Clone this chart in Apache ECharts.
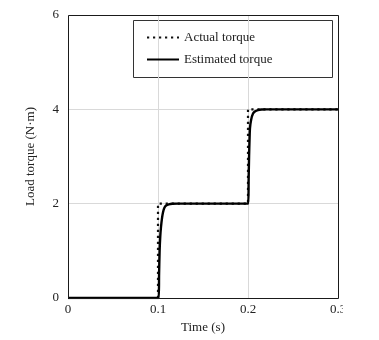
<!DOCTYPE html>
<html>
<head>
<meta charset="utf-8">
<script src="https://cdn.jsdelivr.net/npm/echarts@6/dist/echarts.min.js"></script>
<style>
  html, body { margin: 0; padding: 0; background: #fff; }
  #wrap { width: 379px; height: 340px; background: #fff; }
  #chart { width: 343px; height: 340px; }
</style>
</head>
<body>
<div id="wrap"><div id="chart"></div></div>
<script>
// Load torque step test: reference step vs. observer estimate
const seriesNames = ['Actual torque', 'Estimated torque'];
const xTicks = [0, 0.1, 0.2, 0.3];
const yTicks = [0, 2, 4, 6];

// Reference load torque (s, N·m)
const actualTime   = [0, 0.1, 0.1, 0.2, 0.2, 0.3];
const actualTorque = [0, 0,   2,   2,   4,   4];

// Estimated load torque (s, N·m)
const estTime = [
  0, 0.1008, 0.1012, 0.1018, 0.1025, 0.1033, 0.1045, 0.1056, 0.107, 0.109, 0.112, 0.116, 0.122,
  0.2003, 0.2007, 0.2012, 0.2017, 0.2022, 0.2035, 0.2056, 0.208, 0.2111, 0.215, 0.22, 0.3
];
const estTorque = [
  0, 0, 0.5, 1.0, 1.3, 1.5, 1.7, 1.82, 1.91, 1.96, 1.985, 1.997, 2.0,
  2.0, 2.5, 3.0, 3.35, 3.6, 3.78, 3.91, 3.96, 3.985, 3.997, 4.0, 4.0
];

const pair = (xs, ys) => xs.map((x, i) => [x, ys[i]]);
const font = 'Liberation Serif';
const txt = '#222';

const chart = echarts.init(document.getElementById('chart'), null, { renderer: 'canvas' });
chart.setOption({
  animation: false,
  backgroundColor: '#fff',
  textStyle: { fontFamily: font, color: txt },
  grid: { left: 68, right: 5, top: 15, bottom: 42, containLabel: false, outerBoundsMode: 'none' },
  xAxis: {
    type: 'value', min: 0, max: 0.3, interval: 0.1,
    name: 'Time (s)', nameLocation: 'middle', nameGap: 20,
    nameTextStyle: { fontFamily: font, fontSize: 13, color: txt },
    axisLine: { show: false },
    axisTick: { show: false },
    axisLabel: {
      margin: 5, fontFamily: font, fontSize: 13, color: txt,
      formatter: v => (xTicks.includes(Math.round(v * 10) / 10) ? (v === 0 ? '0' : v.toFixed(1)) : '')
    },
    splitLine: { show: true, lineStyle: { color: '#d9d9d9', width: 1 } }
  },
  yAxis: {
    type: 'value', min: 0, max: 6, interval: 2,
    name: 'Load torque (N·m)', nameLocation: 'middle', nameGap: 31,
    nameTextStyle: { fontFamily: font, fontSize: 13, color: txt },
    axisLine: { show: false },
    axisTick: { show: false },
    axisLabel: {
      margin: 9, fontFamily: font, fontSize: 13, color: txt,
      formatter: v => (yTicks.includes(v) ? String(v) : '')
    },
    splitLine: { show: true, lineStyle: { color: '#d9d9d9', width: 1 } }
  },
  legend: {
    orient: 'vertical', left: 141, top: 26,
    itemWidth: 32, itemHeight: 12, itemGap: 9,
    itemStyle: { opacity: 0 },
    textStyle: { fontFamily: font, fontSize: 13, color: txt },
    data: seriesNames
  },
  graphic: [
    // plot frame
    { type: 'rect', shape: { x: 68.5, y: 15.5, width: 270, height: 283 }, style: { fill: 'none', stroke: '#1a1a1a', lineWidth: 1 }, z: 10, silent: true },
    // legend frame
    { type: 'rect', shape: { x: 133.5, y: 20.5, width: 199, height: 57 }, style: { fill: '#fff', stroke: '#333', lineWidth: 1 }, z: 0, silent: true }
  ],
  series: [
    {
      name: seriesNames[0], type: 'line', data: pair(actualTime, actualTorque),
      symbol: 'none', z: 3, color: '#111',
      lineStyle: { color: '#111', width: 2.2, type: [2.2, 3.8] }
    },
    {
      name: seriesNames[1], type: 'line', data: pair(estTime, estTorque),
      symbol: 'none', smooth: 0.25, z: 4, color: '#000',
      lineStyle: { color: '#000', width: 2.4 }
    }
  ]
});
</script>
</body>
</html>
